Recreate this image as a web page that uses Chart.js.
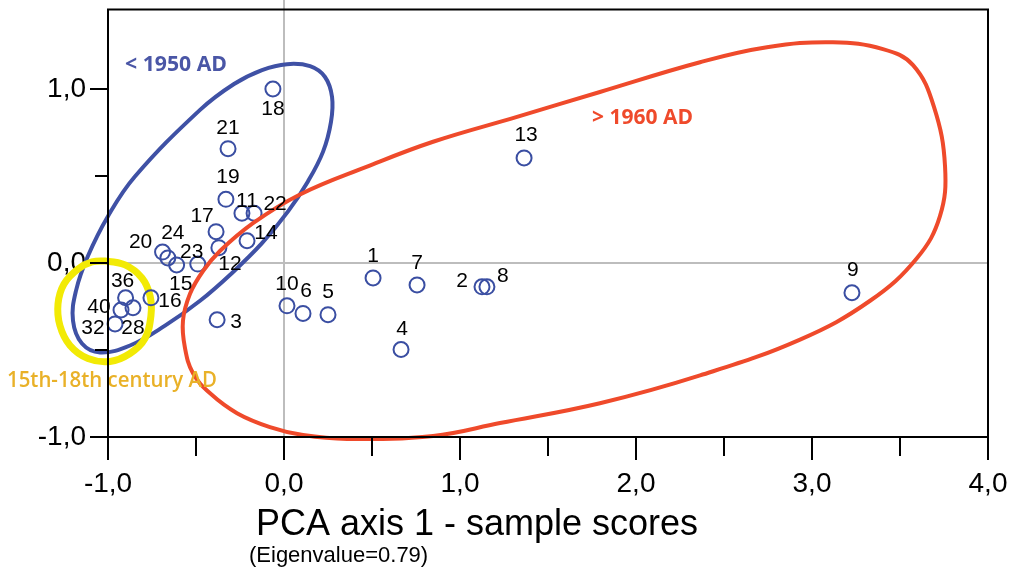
<!DOCTYPE html>
<html>
<head>
<meta charset="utf-8">
<script src="https://cdn.jsdelivr.net/npm/chart.js@4.4.1/dist/chart.umd.min.js"></script>
<style>
html,body{margin:0;padding:0;background:#fff;}
#wrap{width:1019px;height:573px;position:relative;}
</style>
</head>
<body>
<div id="wrap"><canvas id="c" width="1019" height="573"></canvas></div>
<script>
// ---- data ----
const sampleIds = ['18','21','19','11','22','17','14','12','23','20','24','15','16','36','40','28','32','3','10','6','5','1','7','4','2','8','13','9'];
const axis1Scores = [-0.063,-0.318,-0.33,-0.239,-0.17,-0.386,-0.21,-0.37,-0.49,-0.69,-0.66,-0.61,-0.756,-0.90,-0.926,-0.858,-0.96,-0.38,0.017,0.108,0.25,0.506,0.756,0.665,1.125,1.153,1.364,3.227];
const axis2Scores = [1.0,0.657,0.366,0.286,0.286,0.18,0.128,0.088,-0.006,0.063,0.029,-0.011,-0.2,-0.2,-0.27,-0.257,-0.35,-0.326,-0.246,-0.29,-0.297,-0.086,-0.126,-0.497,-0.137,-0.137,0.604,-0.171];

const xMajorTicks = [-1,0,1,2,3,4];
const xMinorTicks = [-0.5,0.5,1.5,2.5,3.5];
const yMajorTicks = [-1,0,1];
const yMinorTicks = [-0.5,0.5];

// group outlines (in axis units)
const post1960X = [-0.574,-0.563,-0.517,-0.420,-0.267,-0.080,0.108,0.358,0.847,1.227,1.795,2.364,2.932,3.330,3.597,3.727,3.756,3.693,3.574,3.403,3.119,2.744,2.364,1.795,1.324,0.847,0.472,0.091,-0.176,-0.364,-0.460,-0.534];
const post1960Y = [-0.331,-0.486,-0.634,-0.749,-0.863,-0.943,-0.989,-1.011,-0.994,-0.920,-0.806,-0.646,-0.440,-0.217,0.029,0.269,0.554,0.897,1.137,1.229,1.269,1.240,1.154,0.983,0.840,0.697,0.554,0.394,0.229,0.069,-0.046,-0.177];

const pre1950X = [0.017,0.148,0.233,0.273,0.267,0.222,0.136,0.023,-0.125,-0.295,-0.477,-0.676,-0.875,-1.045,-1.148,-1.199,-1.182,-1.114,-1.000,-0.847,-0.477,-0.284,-0.125];
const pre1950Y = [1.143,1.131,1.069,0.954,0.811,0.640,0.469,0.297,0.114,-0.057,-0.217,-0.360,-0.474,-0.514,-0.463,-0.331,-0.160,0.040,0.269,0.497,0.880,1.029,1.109];

const earlyX = [-1.017,-0.903,-0.807,-0.761,-0.756,-0.790,-0.875,-0.989,-1.114,-1.216,-1.273,-1.284,-1.250,-1.170,-1.091];
const earlyY = [0.011,-0.011,-0.086,-0.189,-0.303,-0.434,-0.520,-0.566,-0.549,-0.474,-0.360,-0.234,-0.120,-0.034,0.006];

const groupNames = ['< 1950 AD','> 1960 AD','15th-18th century AD'];
const xTitle = 'PCA axis 1 - sample scores';
const xSubTitle = '(Eigenvalue=0.79)';

// ---- layout / style (not data) ----
const labelOffsets = [[0,18],[0,-22],[2,-24],[5,-14],[21,-11],[-14,-17],[19,-9],[11,15],[-6,-14],[-22,-12],[5,-26],[4,18],[19,2],[-3,-18],[-22,-5],[0,19],[-22,3],[19,1],[0,-23],[3,-24],[0,-24],[0,-23],[0,-23],[1,-22],[-20,-7],[16,-12],[2,-24],[1,-24]];
const groupLabelAnchors = [
  {x:-0.903, y:1.137, color:'#4a56a6', font:'bold 22px "Open Sans"', maxW:102},
  {x:1.75, y:0.834, color:'#ef4a2b', font:'bold 22px "Open Sans"', maxW:101},
  {x:-1.574, y:-0.68, color:'#e9b128', font:'600 21px "Open Sans"', maxW:210}
];

const zip = (xs, ys) => xs.map((x, i) => ({x, y: ys[i]}));

const loopPlugin = {
  id: 'loopPlugin',
  afterDatasetsUpdate(chart) {
    chart.data.datasets.forEach((ds, i) => {
      if (ds.closedLoop) {
        const line = chart.getDatasetMeta(i).dataset;
        line._loop = true;
        line._fullLoop = true;
        line._pointsUpdated = false;
        line._segments = undefined;
        line._path = undefined;
      }
    });
  }
};

const decorPlugin = {
  id: 'decor',
  afterDatasetsDraw(chart) {
    const ctx = chart.ctx;
    const xs = chart.scales.x, ys = chart.scales.y;
    const meta = chart.getDatasetMeta(1);
    ctx.save();
    ctx.fillStyle = '#000';
    ctx.font = '21px "Liberation Sans", Arial, sans-serif';
    ctx.textAlign = 'center';
    ctx.textBaseline = 'alphabetic';
    meta.data.forEach((pt, i) => {
      const [dx, dy] = labelOffsets[i];
      ctx.fillText(sampleIds[i], pt.x + dx, pt.y + dy + 21 * 0.358);
    });
    groupNames.forEach((name, i) => {
      const a = groupLabelAnchors[i];
      ctx.font = a.font;
      ctx.fillStyle = a.color;
      ctx.textAlign = 'left';
      ctx.textBaseline = 'middle';
      ctx.fillText(name, xs.getPixelForValue(a.x), ys.getPixelForValue(a.y), a.maxW);
    });
    ctx.restore();
  },
  afterDraw(chart) {
    const ctx = chart.ctx;
    const a = chart.chartArea;
    const xs = chart.scales.x, ys = chart.scales.y;
    ctx.save();
    ctx.strokeStyle = '#bdbdbd';
    ctx.lineWidth = 2;
    const x0 = xs.getPixelForValue(0);
    ctx.beginPath(); ctx.moveTo(x0, 0); ctx.lineTo(x0, a.top); ctx.stroke();
    ctx.strokeStyle = '#000';
    ctx.lineWidth = 2;
    ctx.strokeRect(a.left, a.top, a.right - a.left, a.bottom - a.top);
    ctx.beginPath();
    xMajorTicks.forEach(v => { const p = xs.getPixelForValue(v); ctx.moveTo(p, a.bottom); ctx.lineTo(p, a.bottom + 23); });
    xMinorTicks.forEach(v => { const p = xs.getPixelForValue(v); ctx.moveTo(p, a.bottom); ctx.lineTo(p, a.bottom + 19); });
    yMajorTicks.forEach(v => { const p = ys.getPixelForValue(v); ctx.moveTo(a.left, p); ctx.lineTo(a.left - 18, p); });
    yMinorTicks.forEach(v => { const p = ys.getPixelForValue(v); ctx.moveTo(a.left, p); ctx.lineTo(a.left - 13, p); });
    ctx.stroke();
    ctx.fillStyle = '#000';
    ctx.textAlign = 'center';
    ctx.textBaseline = 'alphabetic';
    ctx.font = '36px "Liberation Sans", Arial, sans-serif';
    ctx.fillText(xTitle, 477, 535);
    ctx.textAlign = 'left';
    ctx.font = '22px "Liberation Sans", Arial, sans-serif';
    ctx.fillText(xSubTitle, 249, 562);
    ctx.restore();
  }
};

const fmt = v => v.toFixed(1).replace('.', ',');

new Chart(document.getElementById('c'), {
  type: 'scatter',
  data: {
    datasets: [
      { label: groupNames[1], data: zip(post1960X, post1960Y), showLine: true, closedLoop: true,
        borderColor: '#ef4a2b', borderWidth: 4, pointRadius: 0, tension: 0.4, capBezierPoints: false, clip: false, fill: false },
      { label: 'samples', data: zip(axis1Scores, axis2Scores), pointRadius: 7.5, pointBorderWidth: 2,
        borderColor: '#3a4ea2', pointBorderColor: '#3a4ea2', backgroundColor: 'rgba(0,0,0,0)', pointBackgroundColor: 'rgba(0,0,0,0)', clip: false },
      { label: groupNames[2], data: zip(earlyX, earlyY), showLine: true, closedLoop: true,
        borderColor: '#f2ea05', borderWidth: 7, pointRadius: 0, tension: 0.4, capBezierPoints: false, clip: false, fill: false },
      { label: groupNames[0], data: zip(pre1950X, pre1950Y), showLine: true, closedLoop: true,
        borderColor: '#3f51a5', borderWidth: 4, pointRadius: 0, tension: 0.4, capBezierPoints: false, clip: false, fill: false }
    ]
  },
  options: {
    responsive: false,
    devicePixelRatio: 1,
    animation: false,
    events: [],
    layout: { padding: { left: 0, right: 31, top: 7, bottom: 0 } },
    plugins: { legend: { display: false }, tooltip: { enabled: false }, title: { display: false } },
    scales: {
      x: {
        type: 'linear', min: -1, max: 4,
        afterBuildTicks: s => { s.ticks = xMajorTicks.map(v => ({ value: v })); },
        afterFit: s => { s.height = 136; s.paddingLeft = 0; s.paddingRight = 0; },
        grid: { drawTicks: false, lineWidth: 2, color: c => (c.tick && c.tick.value === 0) ? '#bdbdbd' : 'rgba(0,0,0,0)' },
        border: { display: false },
        ticks: { padding: 30, color: '#000', maxRotation: 0, autoSkip: false,
          font: { family: '"Liberation Sans", Arial, sans-serif', size: 28 }, callback: v => fmt(v) }
      },
      y: {
        type: 'linear', min: -1, max: 1.457,
        afterBuildTicks: s => { s.ticks = yMajorTicks.map(v => ({ value: v })); },
        afterFit: s => { s.width = 108; s.paddingTop = 0; s.paddingBottom = 0; },
        grid: { drawTicks: false, lineWidth: 2, color: c => (c.tick && c.tick.value === 0) ? '#bdbdbd' : 'rgba(0,0,0,0)' },
        border: { display: false },
        ticks: { padding: 22, color: '#000', autoSkip: false,
          font: { family: '"Liberation Sans", Arial, sans-serif', size: 28 }, callback: v => fmt(v) }
      }
    }
  },
  plugins: [loopPlugin, decorPlugin]
});
</script>
</body>
</html>
